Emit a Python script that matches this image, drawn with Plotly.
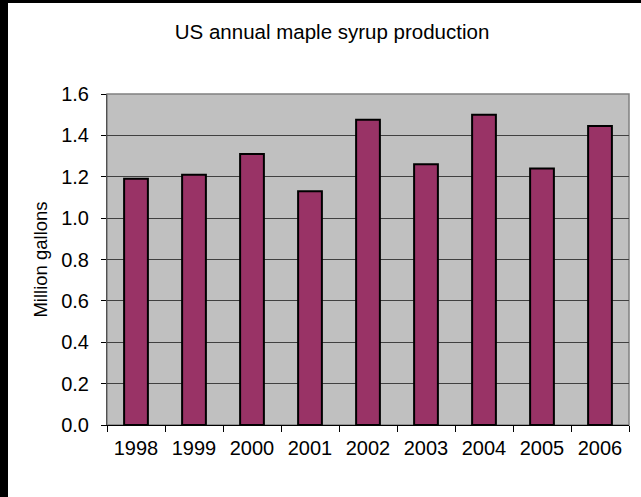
import plotly.graph_objects as go

# data
years = ['1998', '1999', '2000', '2001', '2002', '2003', '2004', '2005', '2006']
production = [1.19, 1.21, 1.31, 1.13, 1.475, 1.26, 1.50, 1.24, 1.445]
y_ticks = [0.0, 0.2, 0.4, 0.6, 0.8, 1.0, 1.2, 1.4, 1.6]

W, H = 641, 497
L, R, T, B = 107, 12, 94, 72
pw, ph = W - L - R, H - T - B

fig = go.Figure()
fig.add_trace(go.Bar(
    x=years, y=production,
    marker=dict(color='#993366', line=dict(color='black', width=2)),
))

# black frame strips at left and top edge of the picture
fig.add_shape(type='rect', xref='paper', yref='paper',
              x0=-L / pw, x1=(8 - L) / pw, y0=-B / ph, y1=(H - B) / ph,
              fillcolor='black', line_width=0, layer='above')
fig.add_shape(type='rect', xref='paper', yref='paper',
              x0=-L / pw, x1=(W - L) / pw, y0=1 + (T - 3) / ph, y1=1 + T / ph,
              fillcolor='black', line_width=0, layer='above')

fig.update_layout(
    width=W, height=H,
    margin=dict(l=L, r=R, t=T, b=B, autoexpand=False),
    paper_bgcolor='white',
    plot_bgcolor='#C0C0C0',
    font=dict(family='Liberation Sans, Arial', size=20, color='black'),
    title=dict(text='US annual maple syrup production', x=0.518, xanchor='center',
               y=1 - 32 / H, yanchor='middle', font=dict(size=20.5)),
    bargap=0.59,
    showlegend=False,
)
fig.update_xaxes(
    type='category', tickson='boundaries', ticks='outside', ticklen=6,
    tickcolor='black', showline=True, linecolor='black', linewidth=1,
    showgrid=False, automargin=False, ticklabelstandoff=5,
)
fig.update_yaxes(
    range=[0, 1.6], tickvals=y_ticks, tickformat='.1f',
    ticks='outside', ticklen=5, tickcolor='black',
    showline=True, linecolor='#505050', linewidth=1, mirror=False,
    gridcolor='#404040', gridwidth=1.2, zeroline=False, automargin=False,
    ticklabelstandoff=8,
    title=dict(text='Million gallons', font=dict(size=18.5), standoff=8),
)
# gray plot-area border on top and right
fig.add_shape(type='rect', xref='paper', yref='paper', x0=0, x1=1, y0=0, y1=1,
              line=dict(color='#808080', width=1.5), layer='below')

fig.write_html('out.html', config={'displayModeBar': False},
               post_script="document.body.style.margin='0';document.body.style.overflow='hidden';")
